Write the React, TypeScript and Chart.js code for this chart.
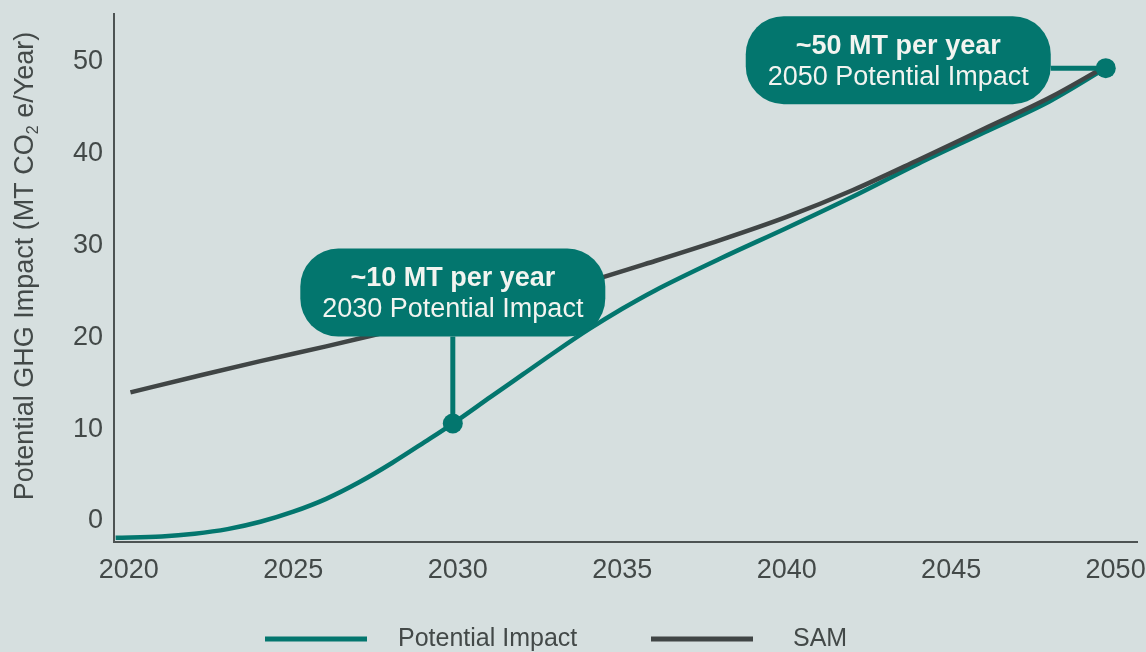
import React, { useEffect, useRef } from 'react';
import { Chart, registerables } from 'chart.js';

Chart.register(...registerables);

// Potential GHG impact curve (MT CO2e / year)
const impactYears = [2019.6, 2021, 2022, 2023, 2024, 2025, 2026, 2027, 2028, 2029, 2029.85, 2031, 2032, 2033, 2034, 2035, 2036, 2038, 2040, 2042, 2044, 2046, 2048, 2049.7];
const impactValues = [-1.85, -1.7, -1.4, -0.9, -0.1, 1.0, 2.4, 4.2, 6.3, 8.6, 10.6, 13.5, 16.0, 18.5, 20.9, 23.1, 25.1, 28.6, 31.9, 35.3, 38.9, 42.3, 45.7, 49.3];

// Serviceable addressable market curve
const samYears = [2020.05, 2022, 2024, 2026, 2028, 2030, 2032, 2034, 2036, 2038, 2040, 2042, 2044, 2046, 2048, 2049.6];
const samValues = [14.0, 15.7, 17.4, 19.0, 20.7, 22.4, 24.2, 26.1, 28.3, 30.6, 33.1, 36.0, 39.3, 42.7, 46.1, 49.3];

const xTickYears = [2020, 2025, 2030, 2035, 2040, 2045, 2050];
const yTickValues = [0, 10, 20, 30, 40, 50];
const seriesLabels = ['Potential Impact', 'SAM'];

// Highlighted points on the impact curve and their call-out texts
const calloutIndices = [10, 23];
const calloutHeadlines = ['~10 MT per year', '~50 MT per year'];
const calloutCaptions = ['2030 Potential Impact', '2050 Potential Impact'];

const TEAL = '#03766e';
const SLATE = '#404545';
const BG = '#d6dfdf';
const INK = '#434948';
const AXIS = '#4d5353';
const FONT = '"Liberation Sans", Arial, sans-serif';

const backgroundPlugin = {
  id: 'pageBackground',
  beforeDraw(chart: any) {
    const { ctx, width, height } = chart;
    ctx.save();
    ctx.fillStyle = BG;
    ctx.fillRect(0, 0, width, height);
    ctx.restore();
  },
};

const calloutPlugin = {
  id: 'callouts',
  afterDatasetsDraw(chart: any) {
    const { ctx } = chart;
    const xs = chart.scales.x;
    const ys = chart.scales.y;
    calloutIndices.forEach((idx, i) => {
      const px = xs.getPixelForValue(impactYears[idx]);
      const py = ys.getPixelForValue(impactValues[idx]);
      const w = 305;
      const h = 88;
      const r = 38;
      let bx: number, by: number, ex: number, ey: number;
      if (i === 0) {
        bx = px - w / 2;
        by = py - 175;
        ex = px;
        ey = by + h;
      } else {
        bx = px - 55 - w;
        by = py - 52;
        ex = bx + w;
        ey = py;
      }
      ctx.save();
      ctx.strokeStyle = TEAL;
      ctx.lineWidth = 5;
      ctx.beginPath();
      ctx.moveTo(px, py);
      ctx.lineTo(ex, ey);
      ctx.stroke();

      ctx.fillStyle = TEAL;
      ctx.beginPath();
      ctx.roundRect(bx, by, w, h, r);
      ctx.fill();

      ctx.beginPath();
      ctx.arc(px, py, 10, 0, Math.PI * 2);
      ctx.fill();

      ctx.fillStyle = '#f2f4f0';
      ctx.textAlign = 'center';
      ctx.textBaseline = 'middle';
      const cx = bx + w / 2;
      ctx.font = `bold 27px ${FONT}`;
      ctx.fillText(calloutHeadlines[i], cx, by + 30.5);
      ctx.font = `27px ${FONT}`;
      ctx.fillText(calloutCaptions[i], cx, by + 61.5);
      ctx.restore();
    });
  },
};

const axisTitlePlugin = {
  id: 'axisTitle',
  afterDraw(chart: any) {
    const { ctx } = chart;
    const size = 27;
    const main = `${size}px ${FONT}`;
    const small = `${Math.round(size * 0.6)}px ${FONT}`;
    const parts = [
      { t: 'Potential GHG Impact (MT CO', f: main, dy: 0 },
      { t: '2', f: small, dy: 5 },
      { t: ' e/Year)', f: main, dy: 0 },
    ];
    ctx.save();
    let total = 0;
    parts.forEach((p) => {
      ctx.font = p.f;
      total += ctx.measureText(p.t).width;
    });
    ctx.translate(33, 266);
    ctx.rotate(-Math.PI / 2);
    ctx.fillStyle = INK;
    ctx.textBaseline = 'alphabetic';
    ctx.textAlign = 'left';
    let x = -total / 2;
    parts.forEach((p) => {
      ctx.font = p.f;
      ctx.fillText(p.t, x, p.dy);
      x += ctx.measureText(p.t).width;
    });
    ctx.restore();
  },
};

const legendPlugin = {
  id: 'bottomLegend',
  afterDraw(chart: any) {
    const { ctx } = chart;
    const colors = [TEAL, SLATE];
    const lineStarts = [265, 651];
    const textStarts = [398, 793];
    ctx.save();
    ctx.font = `25px ${FONT}`;
    ctx.textBaseline = 'alphabetic';
    ctx.textAlign = 'left';
    seriesLabels.forEach((label, i) => {
      ctx.fillStyle = colors[i];
      ctx.fillRect(lineStarts[i], 636.5, 102, 5);
      ctx.fillStyle = INK;
      ctx.fillText(label, textStarts[i], 646);
    });
    ctx.restore();
  },
};

export default function App() {
  const canvasRef = useRef<HTMLCanvasElement>(null);

  useEffect(() => {
    document.body.style.margin = '0';
    document.body.style.background = BG;
    const canvas = canvasRef.current;
    if (!canvas) return;

    const chart = new Chart(canvas, {
      type: 'line',
      data: {
        datasets: [
          {
            label: seriesLabels[0],
            data: impactYears.map((x, i) => ({ x, y: impactValues[i] })),
            borderColor: TEAL,
            backgroundColor: TEAL,
            borderWidth: 4.5,
            pointRadius: 0,
            cubicInterpolationMode: 'monotone',
            order: 1,
          },
          {
            label: seriesLabels[1],
            data: samYears.map((x, i) => ({ x, y: samValues[i] })),
            borderColor: SLATE,
            backgroundColor: SLATE,
            borderWidth: 4.5,
            pointRadius: 0,
            cubicInterpolationMode: 'monotone',
            order: 0,
          },
        ],
      },
      options: {
        responsive: false,
        animation: false,
        layout: { padding: { top: 14, right: 9, left: 0, bottom: 0 } },
        plugins: {
          legend: { display: false },
          tooltip: { enabled: false },
        },
        scales: {
          x: {
            type: 'linear',
            min: 2019.55,
            max: 2050.65,
            grid: { display: false },
            border: { display: true, color: AXIS, width: 2 },
            afterBuildTicks: (scale: any) => {
              scale.ticks = xTickYears.map((v) => ({ value: v }));
            },
            afterFit: (scale: any) => {
              scale.height = 110;
              scale.paddingLeft = 0;
              scale.paddingRight = 0;
            },
            ticks: {
              color: INK,
              font: { family: FONT, size: 27 },
              padding: 4,
              maxRotation: 0,
              autoSkip: false,
              callback: (v: any) => String(v),
            },
          },
          y: {
            type: 'linear',
            min: -2.3,
            max: 55.2,
            grid: { display: false },
            border: { display: true, color: AXIS, width: 2 },
            afterBuildTicks: (scale: any) => {
              scale.ticks = yTickValues.map((v) => ({ value: v }));
            },
            afterFit: (scale: any) => {
              scale.width = 114;
              scale.paddingTop = 0;
              scale.paddingBottom = 0;
            },
            ticks: {
              color: INK,
              font: { family: FONT, size: 27 },
              padding: 3,
              callback: (v: any) => String(v),
            },
          },
        },
      },
      plugins: [backgroundPlugin, calloutPlugin, axisTitlePlugin, legendPlugin],
    } as any);

    return () => chart.destroy();
  }, []);

  return (
    <div style={{ width: 1146, height: 652 }}>
      <canvas ref={canvasRef} width={1146} height={652} style={{ display: 'block' }} />
    </div>
  );
}
